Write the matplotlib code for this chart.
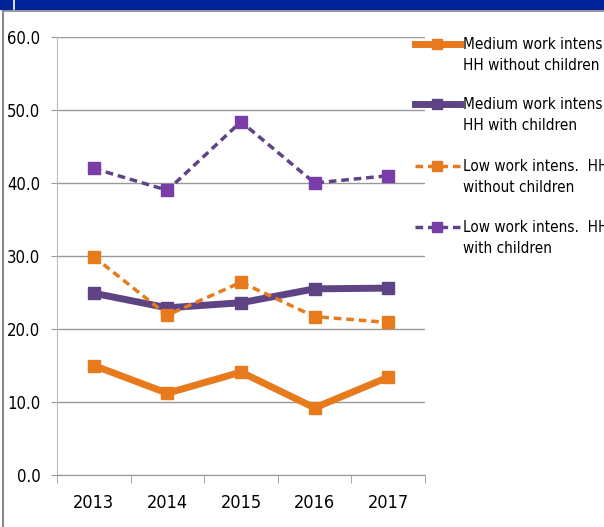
import matplotlib.pyplot as plt
from matplotlib.lines import Line2D
from matplotlib.patches import Rectangle

plt.rcParams['font.family'] = ['DejaVu Sans']
plt.rcParams['font.stretch'] = 'condensed'

years = ["2013", "2014", "2015", "2016", "2017"]
med_no_kids = [15.0, 11.2, 14.1, 9.2, 13.4]
med_kids = [24.9, 22.9, 23.6, 25.5, 25.6]
low_no_kids = [29.9, 21.9, 26.4, 21.7, 20.9]
low_kids = [42.0, 39.0, 48.4, 40.0, 41.0]
labels = ["Medium work intens.\nHH without children",
          "Medium work intens.\nHH with children",
          "Low work intens.  HH\nwithout children",
          "Low work intens.  HH\nwith children"]

orange = "#E87A1E"
purple_dark = "#5E4485"
purple = "#7A3DA8"

fig = plt.figure(figsize=(6.04, 5.27), dpi=100)
ax = fig.add_axes([57/604, 1-475/527, (425-57)/604, (475-37)/527])

x = range(len(years))
series = [
    (med_no_kids, orange, orange, "-", 5),
    (med_kids, purple_dark, purple_dark, "-", 5),
    (low_no_kids, orange, orange, (0, (2.2, 1.4)), 2.5),
    (low_kids, purple_dark, purple, (0, (2.2, 1.4)), 2.5),
]
for vals, lc, mc, ls, lw in series:
    ax.plot(x, vals, color=lc, linestyle=ls, linewidth=lw, marker="s",
            markersize=8, markerfacecolor=mc, markeredgecolor=mc, zorder=3)

ax.set_xlim(-0.5, 4.5)
ax.set_ylim(0, 60)
ax.set_yticks(range(0, 61, 10))
ax.set_yticklabels([f"{v:.1f}" for v in range(0, 61, 10)], fontsize=12)
ax.set_xticks(list(x))
ax.set_xticklabels(years, fontsize=13)
ax.set_xticks([i - 0.5 for i in range(6)], minor=True)
ax.tick_params(axis="x", which="major", length=0, pad=14)
ax.tick_params(axis="x", which="minor", length=6, color="#999999")
ax.tick_params(axis="y", length=4, color="#999999", pad=8)
ax.grid(axis="y", color="#999999", linewidth=1)
ax.set_axisbelow(True)
for s in ["top", "right"]:
    ax.spines[s].set_visible(False)
ax.spines["left"].set_color("#BBBBBB")
ax.spines["bottom"].set_color("#999999")

# legend drawn by hand; the reference cuts it off at the right edge
leg_y = [44, 104, 166, 227]
for (vals, lc, mc, ls, lw), lab, yy in zip(series, labels, leg_y):
    fy = 1 - yy/527
    fig.add_artist(Line2D([415/604, 460/604], [fy, fy], color=lc, linestyle=ls,
                          linewidth=lw, transform=fig.transFigure))
    fig.add_artist(Line2D([437/604], [fy], color=mc, marker="s", markersize=7,
                          transform=fig.transFigure))
    fig.text(463/604, fy + 7/527, lab, fontsize=11, va="top", ha="left",
             linespacing=1.5)

# frame
fig.add_artist(Rectangle((0, 1-9/527), 1, 9/527, color="#00239A",
                         transform=fig.transFigure))
fig.add_artist(Line2D([14/604, 14/604], [1-9/527, 1], color="white", linewidth=1.2,
                      transform=fig.transFigure))
fig.add_artist(Line2D([2.5/604, 1], [1-11/527, 1-11/527], color="#888888",
                      linewidth=1.2, transform=fig.transFigure))
fig.add_artist(Line2D([2.5/604, 2.5/604], [0, 1-11/527], color="#888888",
                      linewidth=1.5, transform=fig.transFigure))

fig.savefig("out.png", dpi=100)
